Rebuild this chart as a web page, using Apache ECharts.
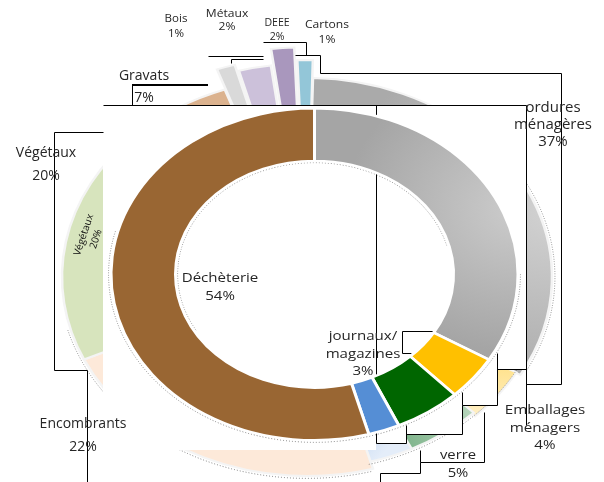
<!DOCTYPE html>
<html><head><meta charset="utf-8">
<style>html,body{margin:0;padding:0;background:#fff}#c{width:604px;height:482px}</style>
<script src="https://cdn.jsdelivr.net/npm/echarts@6/dist/echarts.min.js"></script>
</head><body><div id="c"></div>
<script>
const outerNames=['ordures ménagères','Emballages ménagers','verre','journaux/magazines','Encombrants','Végétaux','Gravats','Bois','Métaux','DEEE','Cartons'];
const outerValues=[32.6,4.4,5.1,2.9,22.4,19.2,7,1.2,2.1,1.5,1];
const outerExplode=[0,-5,-9,-9,0,0,0,26,18,38,22];
const innerNames=['ordures ménagères','Emballages','verre','journaux/magazines','Déchèterie'];
const innerValues=[33.6,4.3,5.3,2.5,54.3];
const grad=(a,b,x2,y2)=>new echarts.graphic.LinearGradient(0,0,x2,y2,[{offset:0,color:a},{offset:1,color:b}]);
const rad=(a,b,x,y,r)=>new echarts.graphic.RadialGradient(x,y,r,[{offset:0,color:a},{offset:1,color:b}]);
const outerColors=[rad('#d2d2d2','#aaaaaa',1,0.45,0.9),grad('#ffd966','#fff0c8',0,1),grad('#74ad82','#c6dfc9',1,-0.2),grad('#a0bfe8','#e4edf9',1,0.5),'#fde9d9','#d7e4bd','#dbb28e','#d9d9d9','#ccc1da','#a997bd','#93c6d8'];
const innerColors=[rad('#cccccc','#a5a5a5',1,0.4,0.85),'#ffc000','#006600','#558ed5','#996633'];
function ring(name,values,colors,explode,g,z,lw,stroke,rotDeg){
  const total=values.reduce((a,b)=>a+b,0);
  const starts=[];let acc=0;values.forEach(v=>{starts.push(acc);acc+=v;});
  const rot=rotDeg*Math.PI/180;
  return {type:'custom',name,z,coordinateSystem:'none',silent:true,
    data:values.map((v,i)=>[v,starts[i]]),
    renderItem(p,api){
      const i=p.dataIndex,v=api.value(0),s=api.value(1);
      const a0=rot+s/total*2*Math.PI-Math.PI/2,a1=rot+(s+v)/total*2*Math.PI-Math.PI/2,m=(a0+a1)/2;
      const e=explode?explode[i]:0,sy=g.ry/g.r;
      return {type:'sector',x:g.cx+e*Math.cos(m),y:g.cy+e*Math.sin(m)*sy,scaleY:sy,
        shape:{cx:0,cy:0,r:g.r,r0:g.r0,startAngle:a0,endAngle:a1,clockwise:true},
        style:{fill:colors[i],stroke,lineWidth:lw}};
    }};
}
const outerG={cx:307,cy:277,r:245,ry:199,r0:150};
const innerG={cx:314.5,cy:274.3,r:203.5,ry:166,r0:139};
const mask=[[103,105],[526,105],[526,369],[497,369],[497,405],[462,405],[462,434],[406,434],[406,443],[376,443],[376,450],[103,450]];
const leaders=[
 [[132,105],[132,85]],
 [[208,56],[263,56]],
 [[231,63],[231,59],[263,59]],
 [[263,42],[306,42],[306,55]],
 [[295,55],[320,55],[320,73],[561,73],[561,384],[526,384]],
 [[103,105],[526,105],[526,425]],
 [[376,105],[376,443],[406,443],[406,425]],
 [[54,132],[103,132]],
 [[54,132],[54,370],[87,370],[87,482]],
 [[434,331],[402,331],[402,353],[411,353]],
 [[497,353],[497,405],[462,405],[462,392]],
 [[497,369],[526,369]],
 [[462,405],[462,434],[406,434]],
 [[484,412],[484,462],[420,462],[420,450]],
 [[420,462],[420,473],[380,473],[380,482]]
];
const labels=[
 ['Bois\n1%',176,26.5,11,14.5,1.05],['Métaux\n2%',227,20.5,11,13.5,1.1],['DEEE\n2%',277,30,10.5,14,1],['Cartons\n1%',327,32.5,11,15,1.1],
 ['Gravats',144,76,14,16,1],['7%',144,98,14,16,1],['Végétaux',46,153,14,16,1],['20%',46,176,14,16,1],
 ['Encombrants',83,424,14,16,1],['22%',83,447,14,16,1],
 ['ordures\nménagères\n37%',553,125,14,17,1.07],['Déchèterie\n54%',220,287,13,18,1.16],
 ['journaux/\nmagazines\n3%',363,354,13,17.5,1.16],['Emballages\nménagers\n4%',545,428,13,17.5,1.17],['verre\n5%',458,464,13,18,1.14]
];
const arcs=[
 [outerG,1.012,-35,28,1.5],[outerG,0.975,28,75,1.5],[outerG,1.012,75,165,1.5],
 [innerG,1.012,0,195,3.5],[{cx:innerG.cx,cy:innerG.cy,r:innerG.r0,ry:innerG.r0*innerG.ry/innerG.r},0.985,150,345,3.5]
];
const d2r=Math.PI/180;
const crisp=pts=>pts.map(([x,y])=>[x+0.5,y+0.5]);
const chart=echarts.init(document.getElementById('c'),null,{renderer:'canvas'});
const graphic=[
 {type:'polygon',shape:{points:mask},style:{fill:'#fff'},z:2,silent:true},
 ...leaders.map(pts=>({type:'polyline',shape:{points:crisp(pts)},style:{stroke:'#000',lineWidth:1,fill:null},z:3,silent:true})),
 {type:'polyline',shape:{points:[[132,85],[208,85]]},style:{stroke:'#000',lineWidth:2,fill:null},z:3,silent:true},
 ...arcs.map(([g,k,a,b,z])=>({type:'arc',x:g.cx,y:g.cy,scaleY:g.ry/g.r,shape:{cx:0,cy:0,r:g.r*k,startAngle:a*d2r,endAngle:b*d2r,clockwise:true},style:{fill:null,stroke:'#555',lineWidth:0.8,lineDash:[1,2]},z,silent:true})),
 {type:'text',x:90,y:237,rotation:1.25,style:{text:'Végétaux\n20%',fill:'#111',font:'10px "Open Sans"',lineHeight:13,align:'center',verticalAlign:'middle'},z:1.8,silent:true},
 ...labels.map(([t,x,y,fs,lh,sx])=>({type:'text',x,y,scaleX:sx,style:{text:t,fill:'#262626',font:fs+'px "Open Sans"',lineHeight:lh,align:'center',verticalAlign:'middle'},z:6,silent:true}))
];
chart.setOption({animation:false,backgroundColor:'#fff',graphic,
 series:[ring('outer',outerValues,outerColors,outerExplode,outerG,1,2.5,'#f4f4f4',1.4),ring('inner',innerValues,innerColors,null,innerG,4,3,'#fff',0)]});
</script></body></html>
